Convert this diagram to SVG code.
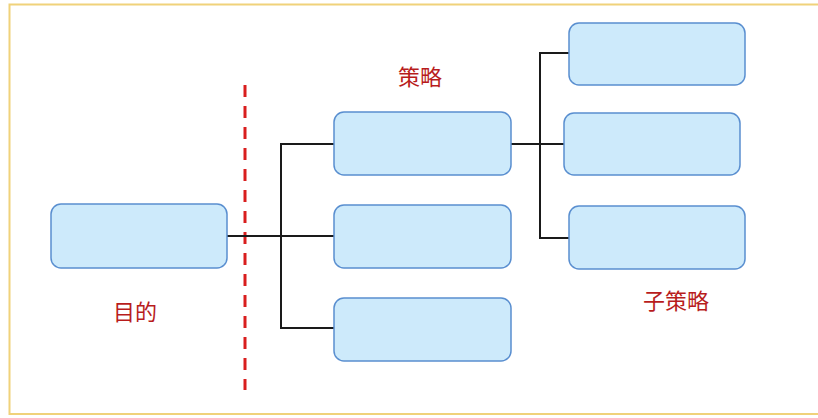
<svg xmlns="http://www.w3.org/2000/svg" width="818" height="418" viewBox="0 0 818 418">
<style>
.box{fill:#cdeafb;stroke:#5a8fd0;stroke-width:1.5}
.ln{fill:none;stroke:#1a1a1a;stroke-width:2}
.lbl{font-family:"Noto Sans CJK SC","Noto Sans",sans-serif;font-size:22px;fill:#b81c1c;text-anchor:middle}
</style>
<rect x="0" y="0" width="818" height="418" fill="#ffffff"/>
<rect x="9.5" y="4.5" width="830" height="409.5" fill="none" stroke="#f0d27a" stroke-width="2"/>
<line x1="245" y1="85" x2="245" y2="390" stroke="#d91e1e" stroke-width="3" stroke-dasharray="12,9"/>
<g id="connectors">
<path class="ln" d="M227 236 H335"/>
<path class="ln" d="M335 144 H281 V328 H335"/>
<path class="ln" d="M511 144 H564"/>
<path class="ln" d="M569 53 H540 V238 H569"/>
</g>
<g id="goal"><rect class="box" x="51" y="204" width="176" height="64" rx="10"/></g>
<g id="s1"><rect class="box" x="334" y="112" width="177" height="63" rx="10"/></g>
<g id="s2"><rect class="box" x="334" y="205" width="177" height="63" rx="10"/></g>
<g id="s3"><rect class="box" x="334" y="298" width="177" height="63" rx="10"/></g>
<g id="ss1"><rect class="box" x="569" y="23" width="176" height="62" rx="10"/></g>
<g id="ss2"><rect class="box" x="564" y="113" width="176" height="62" rx="10"/></g>
<g id="ss3"><rect class="box" x="569" y="206" width="176" height="63" rx="10"/></g>
<g id="labels">
<text class="lbl" x="420" y="85">策略</text>
<text class="lbl" x="135" y="320">目的</text>
<text class="lbl" x="676" y="309">子策略</text>
</g>
</svg>
